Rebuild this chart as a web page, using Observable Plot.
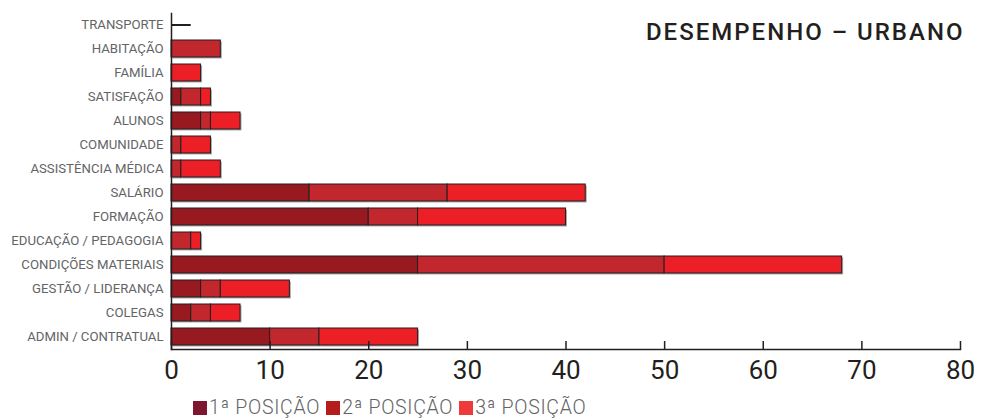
<!DOCTYPE html>
<html>
<head>
<meta charset="utf-8">
<script src="https://cdn.jsdelivr.net/npm/d3@7"></script>
<script src="https://cdn.jsdelivr.net/npm/@observablehq/plot@0.6"></script>
<style>
  body { margin: 0; background: #fff; overflow: hidden; }
  #chart { position: relative; width: 981px; }
  svg { display: block; }
  svg [aria-label="y-axis tick label"] text, svg [aria-label="y-axis tick label"] { fill: #636466; }
  svg g[aria-label="text"] text { letter-spacing: 2px; }
  .legend { display: flex; align-items: center; height: 20px; line-height: 20px; padding-top: 6px; padding-left: 193px; font-family: Roboto, sans-serif; font-weight: 300; font-size: 19.5px; letter-spacing: 0.7px; color: #636466; }
  .legend .sw { width: 14px; height: 14px; margin-right: 2px; }
  .legend .item { display: flex; align-items: center; margin-right: 6px; }
</style>
</head>
<body>
<div id="chart"></div>
<script>
const titulo = "DESEMPENHO – URBANO";
const categorias = ["TRANSPORTE","HABITAÇÃO","FAMÍLIA","SATISFAÇÃO","ALUNOS","COMUNIDADE","ASSISTÊNCIA MÉDICA","SALÁRIO","FORMAÇÃO","EDUCAÇÃO / PEDAGOGIA","CONDIÇÕES MATERIAIS","GESTÃO / LIDERANÇA","COLEGAS","ADMIN / CONTRATUAL"];
const posicoes = ["1ª POSIÇÃO","2ª POSIÇÃO","3ª POSIÇÃO"];
const primeira = [0,0,0,1,3,0,0,14,20,0,25,3,2,10];
const segunda  = [0,5,0,2,1,1,1,14,5,2,25,2,2,5];
const terceira = [0,0,3,1,3,3,4,14,15,1,18,7,3,10];
const linhaCategoria = ["TRANSPORTE"];
const linhaValor = [2];
const xTicks = [0,10,20,30,40,50,60,70,80];
const coresBarras = ["#961a1f","#c1272d","#ed1f26"];
const coresLegenda = ["#7d1730","#b71c1c","#ef3a3c"];

const series = [primeira, segunda, terceira];
const tabela = [];
categorias.forEach((c, i) => {
  series.forEach((s, k) => {
    if (s[i] > 0) tabela.push({categoria: c, posicao: posicoes[k], ordem: k, valor: s[i]});
  });
});
const linhas = linhaCategoria.map((c, i) => ({categoria: c, valor: linhaValor[i]}));

const stackOpts = {y: "categoria", x: "valor", order: (d) => d.ordem};

const plot = Plot.plot({
  width: 981,
  height: 392,
  marginLeft: 171,
  marginRight: 21,
  marginTop: 13,
  marginBottom: 43,
  style: {fontFamily: "Roboto, sans-serif", background: "#fff"},
  x: {domain: [0, 80], label: null},
  y: {domain: categorias, label: null, paddingInner: 0.29, paddingOuter: 0.145},
  color: {domain: posicoes, range: coresBarras},
  marks: [
    Plot.barX(tabela, Plot.stackX({...stackOpts, fill: "#a7a9ac", dx: 1.5, dy: 1.5})),
    Plot.barX(tabela, Plot.stackX({...stackOpts, fill: "posicao", stroke: "#231f20", strokeWidth: 1})),
    Plot.ruleY(linhas, {y: "categoria", x1: 0, x2: "valor", stroke: "#231f20", strokeWidth: 2}),
    Plot.frame({anchor: "left", stroke: "#231f20", strokeWidth: 1.5}),
    Plot.frame({anchor: "bottom", stroke: "#231f20", strokeWidth: 1.5}),
    Plot.axisY({tickSize: 0, tickPadding: 8, fontSize: 13.2, label: null}),
    Plot.axisX({ticks: xTicks, tickSize: -8, tickPadding: 19, fontSize: 26, label: null, stroke: "#231f20", fill: "#231f20", strokeWidth: 1.5}),
    Plot.text([titulo], {frameAnchor: "top-right", text: (d) => d, textAnchor: "end", lineAnchor: "top", dx: 4, dy: 9, fontSize: 24, fontWeight: 500, fill: "#231f20"})
  ]
});
document.getElementById("chart").appendChild(plot);

const legend = document.createElement("div");
legend.className = "legend";
posicoes.forEach((p, k) => {
  const item = document.createElement("div");
  item.className = "item";
  const sw = document.createElement("div");
  sw.className = "sw";
  sw.style.background = coresLegenda[k];
  const t = document.createElement("span");
  t.textContent = p;
  item.appendChild(sw);
  item.appendChild(t);
  legend.appendChild(item);
});
document.getElementById("chart").appendChild(legend);
</script>
</body>
</html>
